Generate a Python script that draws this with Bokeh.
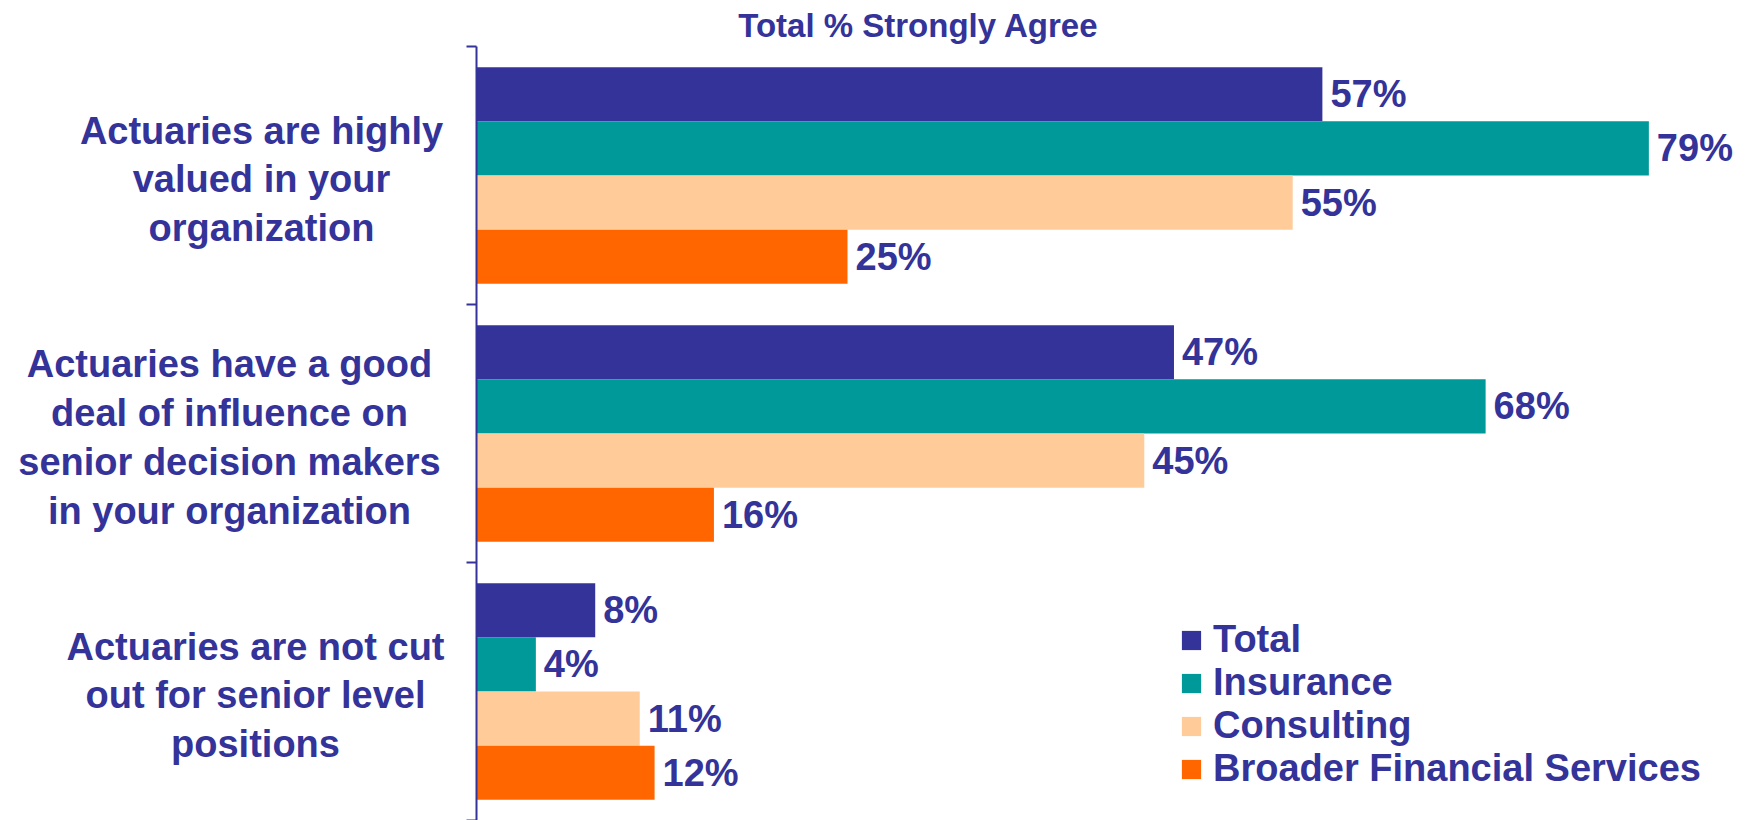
from bokeh.plotting import figure
from bokeh.models import Range1d, FixedTicker, Legend, LegendItem, ColumnDataSource
from bokeh.embed import file_html
from bokeh.resources import INLINE
from bokeh.core.properties import value

# ---- data ----
title_text = "Total % Strongly Agree"
categories = [
    "Actuaries are highly\nvalued in your\norganization",
    "Actuaries have a good\ndeal of influence on\nsenior decision makers\nin your organization",
    "Actuaries are not cut\nout for senior level\npositions",
]
series_names = ["Total", "Insurance", "Consulting", "Broader Financial Services"]
total = [57, 47, 8]
insurance = [79, 68, 4]
consulting = [55, 45, 11]
broader = [25, 16, 12]

# ---- style ----
colors = ["#333399", "#009999", "#FFCC99", "#FF6600"]
text_color = "#333399"
FONT = "Liberation Sans"
offsets = [0.315, 0.105, -0.105, -0.315]
bar_h = 0.21
label_center_px = [-215, -247, -221]   # label block centre, px left of the axis
title_center_px = 442                  # title centre, px right of the axis
title_mid_px = 21                      # title middle, px above plot area

ncat = len(categories)
W, H = 1748, 820
AXIS_X, TOP = 476, 46
px_per_pct = 14.84
band_px = (H - TOP) / ncat
x_start = -AXIS_X / px_per_pct
x_end = x_start + W / px_per_pct
y_end = ncat + TOP / band_px

p = figure(width=W, height=H, output_backend="svg", toolbar_location=None,
           x_range=Range1d(x_start, x_end), y_range=Range1d(0, y_end),
           x_axis_type=None, min_border_left=0, min_border_right=0,
           min_border_top=0, min_border_bottom=0)
p.outline_line_color = None
p.grid.visible = False

yax = p.yaxis[0]
yax.fixed_location = 0
yax.bounds = (0, ncat)
yax.ticker = FixedTicker(ticks=list(range(ncat + 1)))
yax.major_label_text_font_size = "0px"
yax.major_label_text_color = None
yax.major_label_standoff = 0
yax.major_tick_out = 10
yax.major_tick_in = 0
yax.minor_tick_line_color = None
yax.axis_line_color = text_color
yax.axis_line_width = 2
yax.major_tick_line_color = text_color
yax.major_tick_line_width = 2

all_series = [total, insurance, consulting, broader]
items = []
for vals, col, off, name in zip(all_series, colors, offsets, series_names):
    ys = [ncat - i - 0.5 + off for i in range(ncat)]
    src = ColumnDataSource(dict(y=ys, right=vals, lab=[f"{v}%" for v in vals]))
    r = p.hbar(y="y", left=0, right="right", height=bar_h, source=src,
               fill_color=col, line_color=None)
    p.text(x="right", y="y", text="lab", source=src, x_offset=8,
           text_font=value(FONT), text_font_style="bold", text_font_size="38px",
           text_color=text_color, text_baseline="middle", text_align="left")
    items.append(LegendItem(label=name, renderers=[r]))

cat_src = ColumnDataSource(dict(
    x=[c / px_per_pct for c in label_center_px],
    y=[ncat - i - 0.5 for i in range(ncat)],
    t=categories))
p.text(x="x", y="y", text="t", source=cat_src, y_offset=4,
       text_font=value(FONT), text_font_style="bold", text_font_size="38px",
       text_color=text_color, text_align="center", text_baseline="middle",
       text_line_height=1.16)

title_src = ColumnDataSource(dict(x=[title_center_px / px_per_pct],
                                  y=[ncat + title_mid_px / band_px], t=[title_text]))
p.text(x="x", y="y", text="t", source=title_src,
       text_font=value(FONT), text_font_style="bold", text_font_size="33px",
       text_color=text_color, text_align="center", text_baseline="middle")

legend = Legend(items=items, location=(1179, 30), orientation="vertical",
                glyph_width=24, glyph_height=24, label_standoff=10,
                label_text_font=FONT, label_text_font_style="bold",
                label_text_font_size="38px", label_text_color=text_color,
                border_line_color=None, background_fill_alpha=0,
                padding=0, margin=0, spacing=0)
p.add_layout(legend)

open("out.html", "w").write(file_html(p, INLINE))
